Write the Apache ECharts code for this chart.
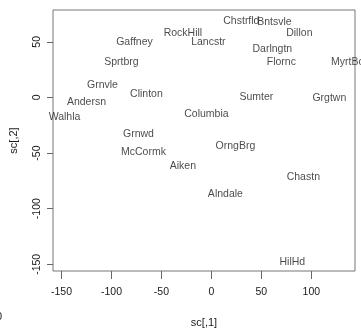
<!DOCTYPE html>
<html>
<head>
<meta charset="utf-8">
<script src="https://cdn.jsdelivr.net/npm/echarts@6/dist/echarts.min.js"></script>
<style>html,body{margin:0;padding:0;background:#fff;}#c{width:361px;height:333px;}</style>
</head>
<body>
<div id="c"></div>
<script>
var names = ["Gaffney","Sprtbrg","Grnvle","Clinton","Andersn","Walhla","RockHill","Lancstr","Chstrfld","Bntsvle","Dillon","Darlngtn","Flornc","MyrtBch","Sumter","Grgtwn","Columbia","Grnwd","McCormk","Aiken","OrngBrg","Chastn","Alndale","HilHd"];
var xs = [-77,-90,-109,-65,-125,-147,-28.5,-3,30,63,88,61,70,139,45,118,-5,-73,-68,-28.5,24,92,14,81];
var ys = [50,32,11,3,-4,-18,58,50,69,68,58,43,32,32,0,-1,-15,-33,-49,-62,-43.5,-72,-87,-148];
var xTicks = [-150,-100,-50,0,50,100];
var yTicks = [-150,-100,-50,0,50];

var data = names.map(function(n,i){ return [xs[i], ys[i], n]; });
var font = '"Liberation Sans", Arial, sans-serif';
var chart = echarts.init(document.getElementById('c'));
chart.setOption({
  animation: false,
  backgroundColor: '#fff',
  grid: {left: 48, top: 10, right: 6, bottom: 60, show: true, borderColor: '#777', borderWidth: 1, backgroundColor: 'transparent'},
  xAxis: {
    type: 'value', min: -158.5, max: 143.7,
    name: 'sc[,1]', nameLocation: 'middle', nameGap: 46,
    nameTextStyle: {fontFamily: font, fontSize: 11, color: '#1a1a1a'},
    axisLine: {show: false, onZero: false},
    splitLine: {show: false},
    axisTick: {show: true, length: 8, lineStyle: {color: '#666'}, customValues: xTicks},
    axisLabel: {fontFamily: font, fontSize: 10.5, color: '#1a1a1a', margin: 16, customValues: xTicks}
  },
  yAxis: {
    type: 'value', min: -156, max: 78.6,
    name: 'sc[,2]', nameLocation: 'middle', nameGap: 34, nameRotate: 90,
    nameTextStyle: {fontFamily: font, fontSize: 11, color: '#1a1a1a'},
    axisLine: {show: false, onZero: false},
    splitLine: {show: false},
    axisTick: {show: true, length: 6, lineStyle: {color: '#666'}, customValues: yTicks},
    axisLabel: {fontFamily: font, fontSize: 10.5, color: '#1a1a1a', margin: 10, rotate: 90, customValues: yTicks}
  },
  series: [{
    type: 'scatter', symbolSize: 1, itemStyle: {color: 'rgba(0,0,0,0)'}, clip: false,
    data: data,
    label: {show: true, position: 'inside', formatter: function(p){ return p.data[2]; },
      fontFamily: font, fontSize: 10.5, color: '#1a1a1a'}
  }],
  graphic: [{type: 'text', left: -4, top: 311, style: {text: '0', font: '11px ' + font, fill: '#222'}}]
});
</script>
</body>
</html>
